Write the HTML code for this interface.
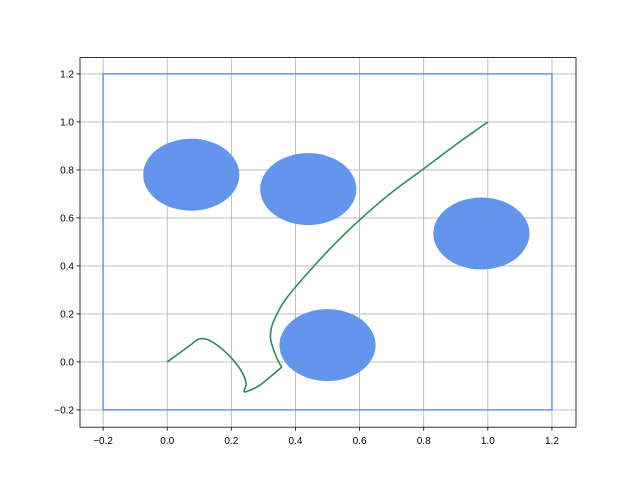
<!DOCTYPE html>
<html><head><meta charset="utf-8"><style>body{margin:0;background:#fff}svg{display:block;font-family:"Liberation Sans","DejaVu Sans",sans-serif}</style></head>
<body>
<svg id="c" width="640" height="480"></svg>
<script>
const xTicks=[-0.2,0,0.2,0.4,0.6,0.8,1.0,1.2];
const yTicks=[-0.2,0,0.2,0.4,0.6,0.8,1.0,1.2];
const xTickLabels=["−0.2","0.0","0.2","0.4","0.6","0.8","1.0","1.2"];
const yTickLabels=["−0.2","0.0","0.2","0.4","0.6","0.8","1.0","1.2"];
const circleX=[0.075,0.44,0.98,0.5];
const circleY=[0.78,0.72,0.535,0.07];
const circleR=[0.15,0.15,0.15,0.15];
const pathX=[0,0.072,0.101,0.134,0.186,0.229,0.246,0.240,0.250,0.290,0.357,0.340,0.323,0.326,0.352,0.384,0.456,0.53,0.607,0.70,0.80,0.90,1.0];
const pathY=[0,0.07,0.096,0.088,0.036,-0.033,-0.088,-0.121,-0.122,-0.096,-0.022,0.022,0.092,0.147,0.224,0.286,0.397,0.502,0.600,0.706,0.805,0.905,1.0];
const rectX=[-0.2,1.2], rectY=[-0.2,1.2];
const L=80,R=576,T=57.6,B=427.2,x0=-0.272,x1=1.275,y0=-0.272,y1=1.268;
const sx=v=>L+(v-x0)/(x1-x0)*(R-L), sy=v=>B-(v-y0)/(y1-y0)*(B-T);
const svg=document.getElementById('c'),NS="http://www.w3.org/2000/svg";
function mk(t,a,p){const e=document.createElementNS(NS,t);for(const k in a)e.setAttribute(k,a[k]);(p||svg).appendChild(e);return e;}
xTicks.forEach((v,i)=>{
 const g=mk('line',{x1:sx(v),x2:sx(v),y1:T,y2:B,stroke:'#b0b0b0','stroke-width':0.8});
 
 
 const tk=mk('line',{x1:sx(v),x2:sx(v),y1:B,y2:B+3.5,stroke:'#000','stroke-width':0.8});
 
 
 const t=mk('text',{x:sx(v),y:B+17,'text-anchor':'middle','font-size':10});t.textContent=xTickLabels[i];
 
 
});
yTicks.forEach((v,i)=>{
 const g=mk('line',{x1:L,x2:R,y1:sy(v),y2:sy(v),stroke:'#b0b0b0','stroke-width':0.8});
 
 
 const tk=mk('line',{x1:L-3.5,x2:L,y1:sy(v),y2:sy(v),stroke:'#000','stroke-width':0.8});
 
 
 const t=mk('text',{x:L-6,y:sy(v)+3.5,'text-anchor':'end','font-size':10});t.textContent=yTickLabels[i];
 
 
});
const rc=mk('rect',{x:sx(rectX[0]),y:sy(rectY[1]),width:sx(rectX[1])-sx(rectX[0]),height:sy(rectY[0])-sy(rectY[1]),fill:'none',stroke:'#6495ed','stroke-width':1.5});


circleX.forEach((cx,i)=>{
 const e=mk('ellipse',{cx:sx(cx),cy:sy(circleY[i]),rx:sx(circleR[i])-sx(0),ry:sy(0)-sy(circleR[i]),fill:'#6495ed'});
 
 
});
const P=pathX.map((x,i)=>[sx(x),sy(pathY[i])]);
const kinks=new Set([10]);
let d='M'+P[0][0]+','+P[0][1];
for(let i=0;i<P.length-1;i++){
 const p0=(i===0||kinks.has(i))?P[i]:P[i-1],p1=P[i],p2=P[i+1],p3=(i+2>=P.length||kinks.has(i+1))?P[i+1]:P[i+2];
 const c1=[p1[0]+(p2[0]-p0[0])/6,p1[1]+(p2[1]-p0[1])/6],c2=[p2[0]-(p3[0]-p1[0])/6,p2[1]-(p3[1]-p1[1])/6];
 d+=' C'+c1+' '+c2+' '+p2;
}
const p=mk('path',{d:d,fill:'none',stroke:'#2e8b57','stroke-width':1.6,'stroke-linejoin':'round'});


const f=mk('rect',{x:L,y:T,width:R-L,height:B-T,fill:'none',stroke:'#000','stroke-width':0.8});


</script>
</body></html>
